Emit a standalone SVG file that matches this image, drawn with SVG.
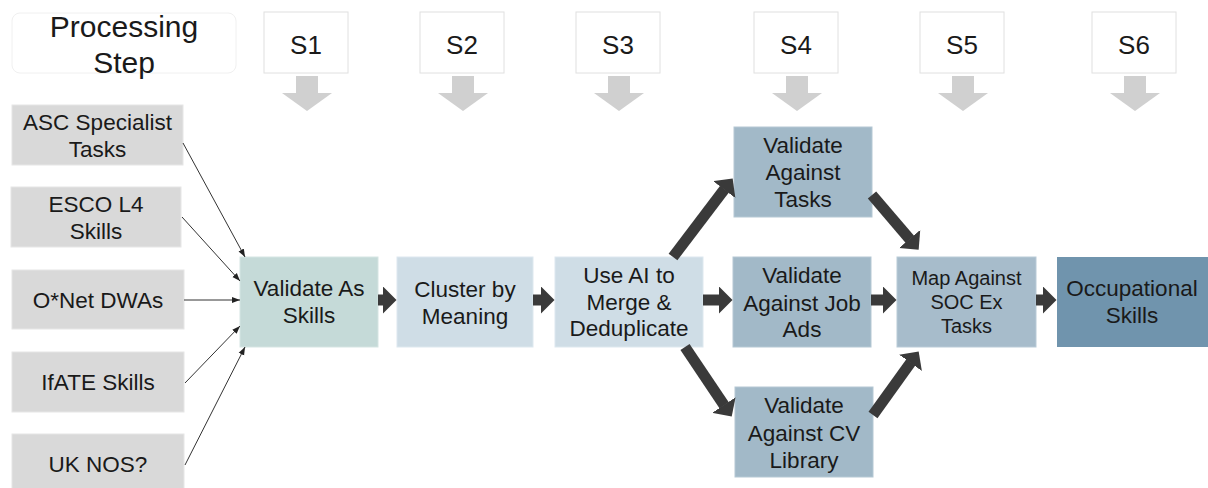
<svg xmlns="http://www.w3.org/2000/svg" width="1208" height="488" viewBox="0 0 1208 488">
<style>
text{font-family:"Liberation Sans",Arial,sans-serif;fill:#1a1a1a;text-anchor:middle}
.n{font-size:22.5px}
.sm{font-size:20px}
.src{fill:#d9d9d9;stroke:#e6e6e6;stroke-width:1}
.step{fill:#ffffff;stroke:#e0e0e0;stroke-width:1}
.thin{stroke:#333;stroke-width:1;fill:none;marker-end:url(#sm)}
.thick{stroke:#3a3a3a;stroke-width:11;fill:none;marker-end:url(#big)}
.garrow{fill:#d0d0d0}
</style>
<defs>
<marker id="sm" viewBox="0 0 8 8" markerWidth="8" markerHeight="8" refX="8" refY="4" orient="auto" markerUnits="userSpaceOnUse">
<path d="M0,1 L8,4 L0,7 z" fill="#222"/>
</marker>
<marker id="big" viewBox="0 0 14 28" markerWidth="14" markerHeight="28" refX="0.5" refY="14" orient="auto" markerUnits="userSpaceOnUse">
<path d="M0,0 L14,14 L0,28 z" fill="#3a3a3a"/>
</marker>
</defs>
<rect width="1208" height="488" fill="#ffffff"/>

<g id="header">
<rect x="12" y="13" width="224" height="60" rx="8" fill="#ffffff" stroke="#f0f0f0"/>
<text x="124" y="37" style="font-size:30px">Processing</text>
<text x="124" y="73" style="font-size:30px">Step</text>
</g>
<g id="s1"><rect class="step" x="264" y="12" width="84" height="61"/><text x="306" y="54" style="font-size:26px">S1</text></g>
<g id="s2"><rect class="step" x="420" y="12" width="84" height="61"/><text x="462" y="54" style="font-size:26px">S2</text></g>
<g id="s3"><rect class="step" x="576" y="12" width="84" height="61"/><text x="618" y="54" style="font-size:26px">S3</text></g>
<g id="s4"><rect class="step" x="754" y="12" width="84" height="61"/><text x="796" y="54" style="font-size:26px">S4</text></g>
<g id="s5"><rect class="step" x="920" y="12" width="84" height="61"/><text x="962" y="54" style="font-size:26px">S5</text></g>
<g id="s6"><rect class="step" x="1092" y="12" width="84" height="61"/><text x="1134" y="54" style="font-size:26px">S6</text></g>

<g id="step-arrows">
<path class="garrow" d="M296,76 H318 V93 H332 L307,111 L282,93 H296 Z"/>
<path class="garrow" d="M452,76 H474 V93 H488 L463,111 L438,93 H452 Z"/>
<path class="garrow" d="M608,76 H630 V93 H644 L619,111 L594,93 H608 Z"/>
<path class="garrow" d="M786,76 H808 V93 H822 L797,111 L772,93 H786 Z"/>
<path class="garrow" d="M952,76 H974 V93 H988 L963,111 L938,93 H952 Z"/>
<path class="garrow" d="M1124,76 H1146 V93 H1160 L1135,111 L1110,93 H1124 Z"/>
</g>

<g id="asc"><rect class="src" x="12" y="105" width="171" height="60"/><text class="n" x="97.5" y="130">ASC Specialist</text><text class="n" x="97.5" y="157">Tasks</text></g>
<g id="esco"><rect class="src" x="11" y="187" width="170" height="60"/><text class="n" x="96" y="211.5">ESCO L4</text><text class="n" x="96" y="238.5">Skills</text></g>
<g id="onet"><rect class="src" x="12" y="270" width="172" height="59"/><text class="n" x="98" y="307.5">O*Net DWAs</text></g>
<g id="ifate"><rect class="src" x="12" y="352" width="172" height="60"/><text class="n" x="98" y="390">IfATE Skills</text></g>
<g id="uknos"><rect class="src" x="12" y="434" width="172" height="60"/><text class="n" x="98" y="472">UK NOS?</text></g>

<g id="validate-as"><rect x="240" y="257" width="138" height="90" fill="#c5dad8" stroke="#d5e5e3"/><text class="n" x="309" y="296">Validate As</text><text class="n" x="309" y="323">Skills</text></g>
<g id="cluster"><rect x="397" y="257" width="136" height="90" fill="#cfdde6" stroke="#dde8ef"/><text class="n" x="465" y="297">Cluster by</text><text class="n" x="465" y="324">Meaning</text></g>
<g id="use-ai"><rect x="555" y="257" width="148" height="90" fill="#cfdde6" stroke="#dde8ef"/><text class="n" x="629" y="283">Use AI to</text><text class="n" x="629" y="310">Merge &amp;</text><text class="n" x="629" y="336">Deduplicate</text></g>
<g id="v-tasks"><rect x="734" y="127" width="138" height="90" fill="#a2b9c8" stroke="#b5c8d4"/><text class="n" x="803" y="153">Validate</text><text class="n" x="803" y="180">Against</text><text class="n" x="803" y="207">Tasks</text></g>
<g id="v-jobads"><rect x="733" y="257" width="138" height="90" fill="#a2b9c8" stroke="#b5c8d4"/><text class="n" x="802" y="283">Validate</text><text class="n" x="802" y="311">Against Job</text><text class="n" x="802" y="337">Ads</text></g>
<g id="v-cv"><rect x="735" y="387" width="138" height="90" fill="#a2b9c8" stroke="#b5c8d4"/><text class="n" x="804" y="413">Validate</text><text class="n" x="804" y="441">Against CV</text><text class="n" x="804" y="468">Library</text></g>
<g id="map-soc"><rect x="897" y="257" width="139" height="90" fill="#a7bccb" stroke="#b9cbd7"/><text class="sm" x="966.5" y="285">Map Against</text><text class="sm" x="966.5" y="309">SOC Ex</text><text class="sm" x="966.5" y="333">Tasks</text></g>
<g id="occupational"><rect x="1057" y="257" width="151" height="90" fill="#7094ad"/><text class="n" x="1132" y="296">Occupational</text><text class="n" x="1132" y="323">Skills</text></g>

<g id="connectors">
<line class="thin" x1="183" y1="143" x2="245" y2="257"/>
<line class="thin" x1="182" y1="217" x2="240" y2="281"/>
<line class="thin" x1="184" y1="300" x2="240" y2="300"/>
<line class="thin" x1="185" y1="383" x2="240" y2="326"/>
<line class="thin" x1="185" y1="465" x2="245" y2="347"/>
<line class="thick" x1="378" y1="300" x2="383" y2="300"/>
<line class="thick" x1="533" y1="300" x2="541" y2="300"/>
<line class="thick" x1="703" y1="300" x2="719" y2="300"/>
<line class="thick" x1="871" y1="300" x2="883" y2="300"/>
<line class="thick" x1="1036" y1="300" x2="1043" y2="300"/>
<line class="thick" x1="673" y1="257" x2="724.5" y2="189.2"/>
<line class="thick" x1="685" y1="347" x2="724.2" y2="405.4"/>
<line class="thick" x1="872" y1="195" x2="909.9" y2="239.4"/>
<line class="thick" x1="873" y1="415" x2="910.8" y2="362.4"/>
</g>
</svg>
